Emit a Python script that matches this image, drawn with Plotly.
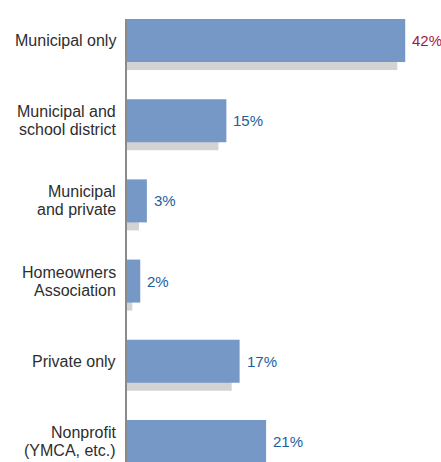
import plotly.graph_objects as go

# Facility operator categories and share of respondents (%)
categories = [
    "Municipal only",
    "Municipal and\nschool district",
    "Municipal\nand private",
    "Homeowners\nAssociation",
    "Private only",
    "Nonprofit\n(YMCA, etc.)",
]
shares = [42, 15, 3, 2, 17, 21]
highlight = [True, False, False, False, False, False]

BAR_BLUE = "#7598c7"
SHADOW_GRAY = "#d3d3d5"
LABEL_DARK = "#2e2e2e"
VALUE_BLUE = "#1d5e9d"
VALUE_RED = "#a3163f"
FONT = "Liberation Sans, Arial, sans-serif"

bar_width = 0.536
bar_offset = -0.268
shadow_drop = 0.1      # shadow sits slightly below the bar
shadow_trim = 1.2      # and ends a little short of it

fig = go.Figure()

# drop shadow underneath each bar
fig.add_trace(go.Bar(
    x=[v - shadow_trim for v in shares],
    y=categories,
    orientation="h",
    width=bar_width,
    offset=bar_offset + shadow_drop,
    marker=dict(color=SHADOW_GRAY, line=dict(width=0)),
    hoverinfo="skip",
    showlegend=False,
))

fig.add_trace(go.Bar(
    x=shares,
    y=categories,
    orientation="h",
    width=bar_width,
    offset=bar_offset,
    marker=dict(color=BAR_BLUE, line=dict(width=0)),
    showlegend=False,
))

annotations = []
# value labels to the right of each bar
for cat, v, hi in zip(categories, shares, highlight):
    annotations.append(dict(
        x=v, y=cat, xref="x", yref="y",
        text=f"{v}%", showarrow=False,
        xanchor="left", yanchor="middle", xshift=5,
        font=dict(family=FONT, size=15, color=VALUE_RED if hi else VALUE_BLUE),
    ))

# category labels, one annotation per line for tight leading
line_gap = 18
for cat in categories:
    lines = cat.split("\n")
    n = len(lines)
    for k, line in enumerate(lines):
        annotations.append(dict(
            x=0, y=cat, xref="paper", yref="y",
            text=line, showarrow=False,
            xanchor="right", yanchor="middle", xshift=-9,
            yshift=((n - 1) / 2 - k) * line_gap,
            font=dict(family=FONT, size=16, color=LABEL_DARK),
        ))

fig.update_layout(
    width=441, height=462,
    margin=dict(l=127, r=0, t=19, b=0),
    paper_bgcolor="white", plot_bgcolor="white",
    barmode="overlay",
    annotations=annotations,
    xaxis=dict(range=[0, 47.4], visible=False, fixedrange=True),
    yaxis=dict(
        type="category",
        categoryarray=categories,
        range=[5.256, -0.268],
        showticklabels=False,
        showgrid=False,
        zeroline=False,
        showline=True, linecolor="#8a8a8a", linewidth=2,
        ticks="",
        fixedrange=True,
    ),
)

fig.write_html("out.html")
